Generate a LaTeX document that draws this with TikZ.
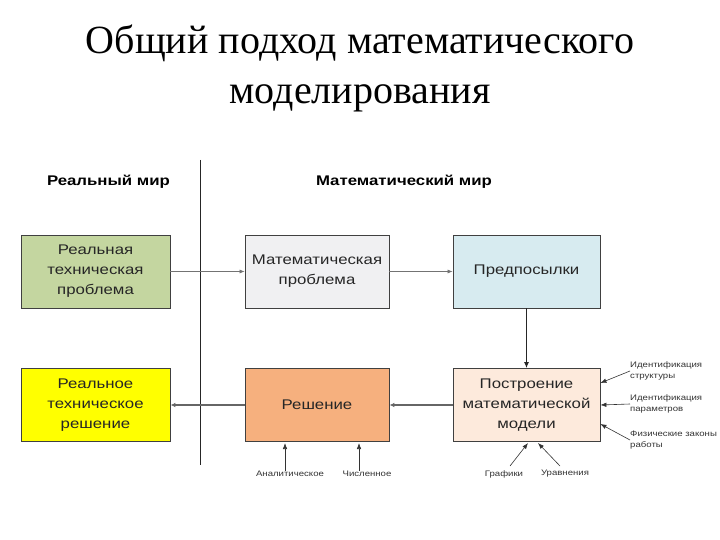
\documentclass[tikz,border=0pt]{standalone}
\usepackage{fontspec}
\setmainfont{Liberation Serif}
\newfontfamily\arialf[FakeStretch=1.2]{Liberation Sans}
\usetikzlibrary{arrows.meta}
\tikzset{
  box/.style={draw=black!75, line width=0.8pt, minimum height=73pt, align=center, inner sep=2pt,
    font=\arialf\fontsize{14}{20}\selectfont, text=black!85},
  conthin/.style={draw=black!55, line width=0.7pt, -{Latex[length=5pt,width=4pt]}},
  conthick/.style={draw=black!60, line width=1.8pt, -{Latex[length=5pt,width=4.5pt]}},
  condown/.style={draw=black!85, line width=1pt, -{Latex[length=6pt,width=5pt]}},
  small/.style={font=\arialf\fontsize{8}{11.5}\selectfont, text=black!80, align=left, inner sep=0pt},
  smallarr/.style={draw=black!80, line width=0.6pt, -{Latex[length=6pt,width=4.5pt]}},
  head/.style={font=\arialf\bfseries\fontsize{14}{16}\selectfont, inner sep=0pt},
  titlef/.style={font=\fontsize{40}{50}\selectfont, inner sep=0pt}
}
\begin{document}
\begin{tikzpicture}[x=1pt,y=-1pt]
\useasboundingbox (0,0) rectangle (720,540);
\node[titlef, anchor=base] (title1) at (360,54) {Общий подход математического};
\node[titlef, anchor=base] (title2) at (360,104) {моделирования};
\node[head] (rw) at (108.5,182) {Реальный мир};
\node[head] (mw) at (404,182) {Математический мир};
\coordinate (vt) at (200,160);
\coordinate (vb) at (200,465);
\draw[black!85, line width=1pt] (vt) -- (vb);

\node[box, fill={rgb,255:red,196;green,214;blue,160}, minimum width=149pt] (rtp) at (95.5,271.5) {Реальная\\техническая\\проблема};
\node[box, fill={rgb,255:red,240;green,240;blue,242}, minimum width=144pt] (mp) at (317,271.5) {Математическая\\проблема};
\node[box, fill={rgb,255:red,215;green,235;blue,240}, minimum width=147pt] (pr) at (526.5,271.5) {Предпосылки};
\node[box, fill={rgb,255:red,255;green,255;blue,0}, minimum width=149pt] (rts) at (95.5,405) {Реальное\\техническое\\решение};
\node[box, fill={rgb,255:red,246;green,176;blue,126}, minimum width=144pt] (sol) at (317,405) {Решение};
\node[box, fill={rgb,255:red,253;green,234;blue,220}, minimum width=147pt] (bm) at (526.5,405) {Построение\\математической\\модели};

\draw[conthin] (rtp) -- (mp);
\draw[conthin] (mp) -- (pr);
\draw[condown] (pr) -- (bm);
\draw[conthick] (bm) -- (sol);
\draw[conthick] (sol) -- (rts);

\node[small, anchor=west] (l1) at (630,371) {Идентификация\\структуры};
\node[small, anchor=west] (l2) at (630,404) {Идентификация\\параметров};
\node[small, anchor=west] (l3) at (630,440) {Физические законы\\работы};
\draw[smallarr] (l1.west) -- (bm.east |- 0,383);
\draw[smallarr] (l2.west) -- (bm.east |- 0,405);
\draw[smallarr] (l3.west) -- (bm.east |- 0,424);

\node[small] (an) at (290,474) {Аналитическое};
\node[small] (ch) at (367,474) {Численное};
\node[small] (gr) at (504,474) {Графики};
\node[small] (ur) at (565,474) {Уравнения};
\draw[smallarr] (an.north -| 285,0) -- (285,443);
\draw[smallarr] (ch.north -| 359,0) -- (359,443);
\draw[smallarr] (510,466) -- (528,443);
\draw[smallarr] (560,466) -- (538,443);
\end{tikzpicture}
\end{document}
